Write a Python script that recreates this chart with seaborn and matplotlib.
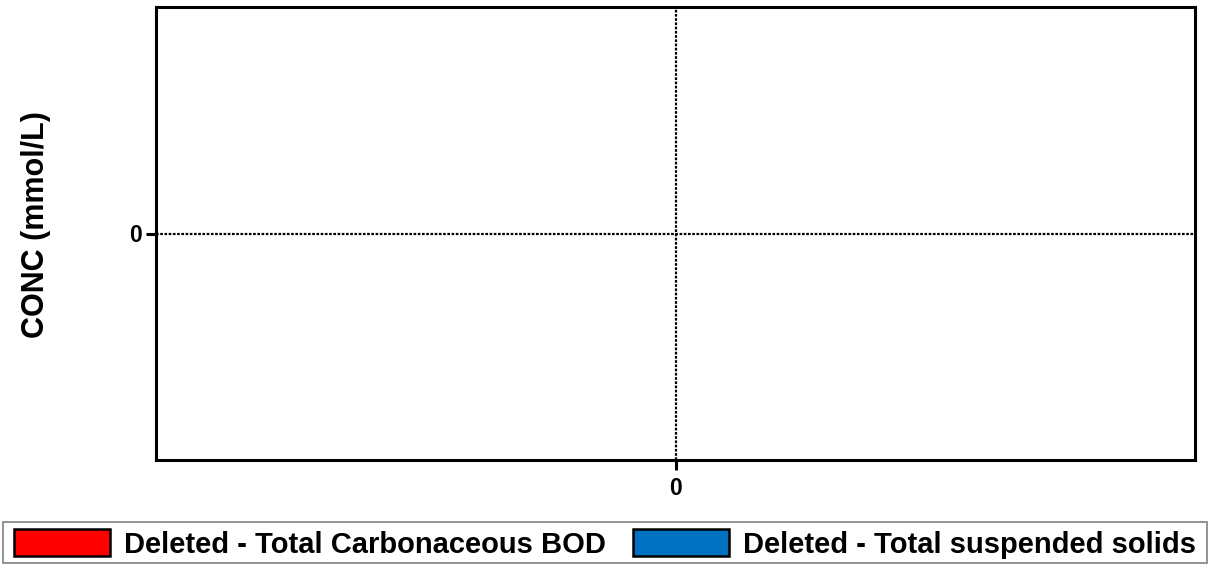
import matplotlib
matplotlib.use("Agg")
import matplotlib.pyplot as plt
from matplotlib.patches import Patch, Rectangle
import pandas as pd
import seaborn as sns

# Series shown in the legend (both have been deleted, so no samples remain)
series_names = ["Deleted - Total Carbonaceous BOD", "Deleted - Total suspended solids"]
series_colors = ["#ff0000", "#0070c0"]
bod_times = []
bod_conc = []
tss_times = []
tss_conc = []

x_ticks = [0]
y_ticks = [0]

sns.set_theme(style="white")
plt.rcParams["font.family"] = ["Liberation Sans", "DejaVu Sans"]
plt.rcParams["font.weight"] = "bold"
for key in ("text.color", "axes.labelcolor", "xtick.color", "ytick.color"):
    plt.rcParams[key] = "black"

W, H = 1210, 565
fig = plt.figure(figsize=(W / 100, H / 100), dpi=100)
ax = fig.add_axes([156 / W, 1 - 460 / H, (1195 - 156) / W, (460 - 7) / H])

frames = []
for name, t, c in [(series_names[0], bod_times, bod_conc), (series_names[1], tss_times, tss_conc)]:
    frames.append(pd.DataFrame({"time": pd.Series(t, dtype=float),
                                "conc": pd.Series(c, dtype=float),
                                "series": name}))
df = pd.concat(frames, ignore_index=True)
if len(df):
    sns.lineplot(data=df, x="time", y="conc", hue="series",
                 palette=dict(zip(series_names, series_colors)), ax=ax, legend=False)

ax.set_xlim(-1, 1)
ax.set_ylim(-1, 1)
ax.set_xticks(x_ticks)
ax.set_yticks(y_ticks)
ax.set_xticklabels([str(v) for v in x_ticks], fontsize=16.5, fontweight="bold")
ax.set_yticklabels([str(v) for v in y_ticks], fontsize=16.5, fontweight="bold")
ax.tick_params(axis="both", direction="out", length=7, width=2.2, color="black",
               bottom=True, left=True, labelcolor="black")
ax.tick_params(axis="y", pad=3.5)
ax.tick_params(axis="x", pad=5)

for s in ax.spines.values():
    s.set_linewidth(2.2)
    s.set_color("black")
    s.set_visible(True)

# zero reference lines
ax.axhline(0, color="black", lw=1.6, linestyle=(0, (1.2, 0.7)), zorder=1)
ax.axvline(0, color="black", lw=1.6, linestyle=(0, (1.2, 0.7)), zorder=1)

ax.set_xlabel("")
ax.set_ylabel("CONC (mmol/L)", fontsize=22, fontweight="bold", color="black")
ax.yaxis.set_label_coords(-0.101, 0.52)

# legend strip along the bottom of the figure
fig.patches.append(Rectangle((3 / W, 2 / H), 1204 / W, 41 / H, transform=fig.transFigure,
                             facecolor="white", edgecolor="#808080", linewidth=1.2,
                             zorder=0))
handles = [Patch(facecolor=c, edgecolor="black", linewidth=1.8, label=n)
           for n, c in zip(series_names, series_colors)]
leg = fig.legend(handles=handles, ncol=2, loc="center",
                 bbox_to_anchor=(605 / W, 1 - 544 / H),
                 borderaxespad=0, frameon=False,
                 handlelength=3.3, handleheight=1.0,
                 handletextpad=0.5, columnspacing=0.9, borderpad=0,
                 prop={"family": "Liberation Sans", "weight": "bold", "size": 21})
for t in leg.get_texts():
    t.set_color("black")

fig.savefig("out.png", dpi=100)
